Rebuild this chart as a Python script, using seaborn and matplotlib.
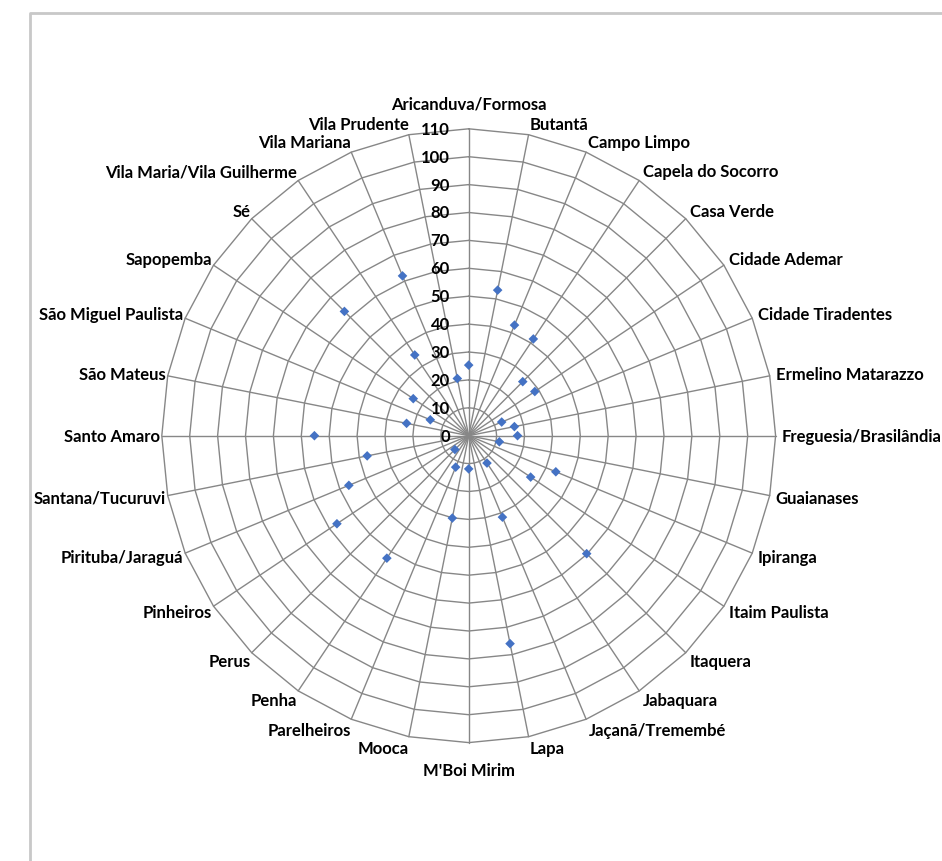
import numpy as np
import pandas as pd
import matplotlib
matplotlib.use("Agg")
import matplotlib.pyplot as plt
from matplotlib.lines import Line2D
import seaborn as sns

# Subprefeituras (clockwise from the top) and their values
categories = [
    "Aricanduva/Formosa", "Butantã", "Campo Limpo", "Capela do Socorro",
    "Casa Verde", "Cidade Ademar", "Cidade Tiradentes", "Ermelino Matarazzo",
    "Freguesia/Brasilândia", "Guaianases", "Ipiranga", "Itaim Paulista",
    "Itaquera", "Jabaquara", "Jaçanã/Tremembé", "Lapa", "M'Boi Mirim",
    "Mooca", "Parelheiros", "Penha", "Perus", "Pinheiros", "Pirituba/Jaraguá",
    "Santana/Tucuruvi", "Santo Amaro", "São Mateus", "São Miguel Paulista",
    "Sapopemba", "Sé", "Vila Maria/Vila Guilherme", "Vila Mariana",
    "Vila Prudente",
]
values = [
    25.3, 53.2, 42.9, 41.7, 27.4, 28.5, 12.8, 16.7,
    17.5, 11.2, 33.8, 26.7, 59.8, 11.8, 31.6, 76.0,
    11.9, 30.1, 12.2, 52.8, 7.0, 56.8, 46.5, 37.1,
    55.3, 22.7, 14.9, 23.9, 63.0, 34.8, 62.0, 20.9,
]
tick_values = list(range(0, 111, 10))

W, H, DPI = 942, 862, 100
PX_PER_UNIT = 2.79          # pixels per value unit on the radial scale
CX, CY = 468.7, 436.7       # centre of the radar in pixels
RMAX = 110
FS = 12

sns.set_theme(style="white")
plt.rcParams["font.family"] = ["Lato", "DejaVu Sans"]

fig = plt.figure(figsize=(W / DPI, H / DPI), dpi=DPI)
ax = fig.add_axes([0, 0, 1, 1])
ax.set_axis_off()

n = len(categories)
theta = np.arange(n) * 2 * np.pi / n
sin_t, cos_t = np.sin(theta), np.cos(theta)

grid_color = "#878787"
# polygon gridlines
for r in tick_values[1:]:
    xs = np.append(r * sin_t, r * sin_t[0])
    ys = np.append(r * cos_t, r * cos_t[0])
    ax.plot(xs, ys, color=grid_color, lw=1.0, zorder=1)
# spokes
for s, c in zip(sin_t, cos_t):
    ax.plot([0, RMAX * s], [0, RMAX * c], color=grid_color, lw=1.0, zorder=1)

# data points
df = pd.DataFrame({"categoria": categories, "valor": values})
df["x"] = df["valor"] * sin_t
df["y"] = df["valor"] * cos_t
sns.scatterplot(data=df, x="x", y="y", marker="D", s=24, color="#4472C4",
                edgecolor="none", linewidth=0, ax=ax, zorder=3, legend=False)
ax.set_xlim(-CX / PX_PER_UNIT, (W - CX) / PX_PER_UNIT)
ax.set_ylim(-(H - CY) / PX_PER_UNIT, CY / PX_PER_UNIT)
ax.set_axis_off()

# radial tick labels
for v in tick_values:
    ax.text(-18.7 / PX_PER_UNIT, v, str(v), ha="right", va="center",
            fontsize=FS, fontweight="bold", color="#000000", zorder=4)

# category labels
for name, s, c in zip(categories, sin_t, cos_t):
    if abs(s) < 1e-6:
        y = 119.0 if c > 0 else -120.0
        ax.text(0, y, name, ha="center", va="center", fontsize=FS,
                fontweight="bold", color="#000000")
    elif s > 0:
        ax.text(112.2 * s, 114.0 * c, name, ha="left", va="center",
                fontsize=FS, fontweight="bold", color="#000000")
    else:
        ax.text(110.6 * s, 114.0 * c, name, ha="right", va="center",
                fontsize=FS, fontweight="bold", color="#000000")

# chart area border
fig.add_artist(Line2D([29.5 / W, 29.5 / W, 1.0], [0.0, 1 - 13.5 / H, 1 - 13.5 / H],
                      transform=fig.transFigure, color="#c8c8c8", lw=2.0))

fig.savefig("out.png", dpi=DPI)
